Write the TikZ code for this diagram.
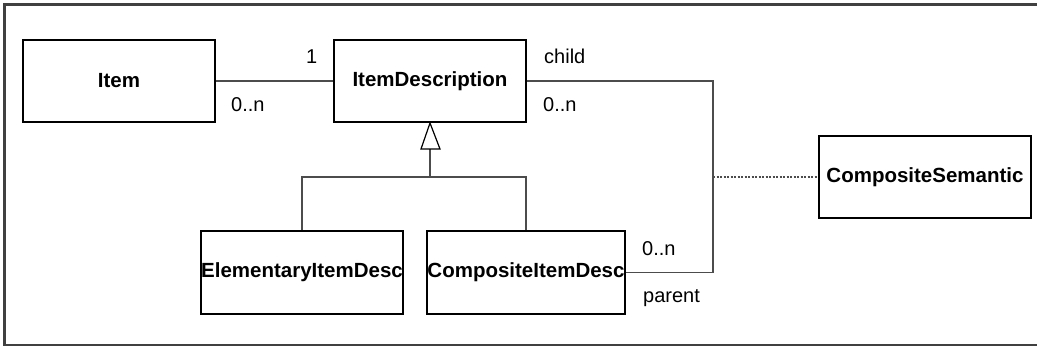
\documentclass[tikz,border=0pt]{standalone}
\usepackage{fontspec}
\setmainfont{Liberation Sans}
\begin{document}
\begin{tikzpicture}[x=1pt,y=-1pt,
  cls/.style={draw=black,line width=2pt,inner sep=0pt,font=\fontsize{20.5}{24}\selectfont\bfseries},
  conn/.style={draw=black!70,line width=1.2pt},
  lbl/.style={inner sep=0pt,anchor=base west,font=\fontsize{20}{24}\selectfont},
  every node/.style={text=black}]
\useasboundingbox (0,0) rectangle (1037,347);
\draw[black!75,line width=2.2pt] (1037,4.5) -- (4.5,4.5) -- (4.5,345) -- (1037,345);
% classes
\node[cls,minimum width=192pt,minimum height=82pt] (item) at (119,81) {Item};
\node[cls,minimum width=192pt,minimum height=82pt] (desc) at (430,81) {ItemDescription};
\node[cls,minimum width=200pt,minimum height=83pt] (elem) at (302,272.5) {ElementaryItemDesc};
\node[cls,minimum width=198pt,minimum height=83pt] (comp) at (526,272.5) {CompositeItemDesc};
\node[cls,minimum width=212pt,minimum height=82pt] (sem) at (925,177) {CompositeSemantic};
% association Item - ItemDescription
\draw[conn] (item.east) -- (desc.west);
\node[lbl] (l1) at (306,64) {1};
\node[lbl] (l2) at (231,112) {0..n};
% generalisation
\coordinate (tb) at (430,149);
\coordinate (jn) at (430,177);
\draw[conn] (jn) -- (tb);
\draw[conn] (elem.north) -- (302,177) -| (comp.north);
\draw[black,line width=1.2pt,fill=white] (desc.south) -- (421,149) -- (440,149) -- cycle;
% recursive association
\coordinate (cr) at (713,81);
\draw[conn] (desc.east) -- (cr) |- (comp.east);
\node[lbl] (l3) at (544,64) {child};
\node[lbl] (l4) at (543,112) {0..n};
\node[lbl] (l5) at (642,256) {0..n};
\node[lbl] (l6) at (643,303) {parent};
% association class link
\coordinate (ac) at (713,177);
\draw[black!70,line width=1.2pt,dash pattern=on 2pt off 1.5pt] (ac) -- (sem.west);
\end{tikzpicture}
\end{document}
